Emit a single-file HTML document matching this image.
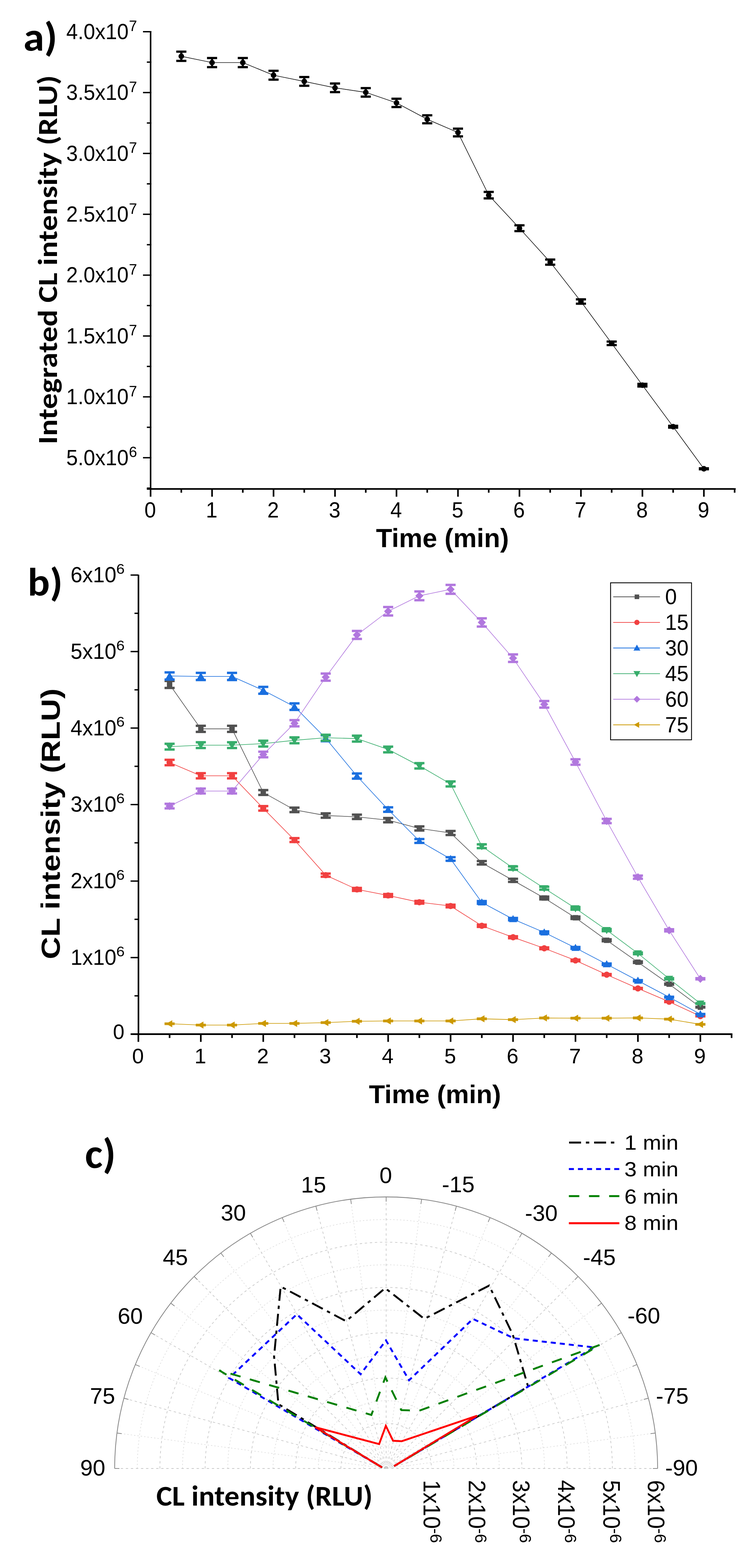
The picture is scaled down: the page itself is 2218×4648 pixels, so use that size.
<!DOCTYPE html>
<html><head><meta charset="utf-8"><title>Figure</title>
<style>html,body{margin:0;padding:0;background:#fff;overflow:hidden}svg{display:block}</style></head>
<body><svg width="2218" height="4648" viewBox="0 0 2218 4648">
<rect width="2218" height="4648" fill="#fff"/>
<rect x="444.30" y="92.10" width="4.50" height="1359.90" fill="#000"/>
<rect x="435.40" y="1447.00" width="1746.10" height="4.80" fill="#000"/>
<rect x="424.00" y="92.00" width="25.00" height="4.00" fill="#000"/>
<rect x="424.00" y="272.40" width="25.00" height="4.00" fill="#000"/>
<rect x="424.00" y="452.80" width="25.00" height="4.00" fill="#000"/>
<rect x="424.00" y="633.20" width="25.00" height="4.00" fill="#000"/>
<rect x="424.00" y="813.60" width="25.00" height="4.00" fill="#000"/>
<rect x="424.00" y="994.00" width="25.00" height="4.00" fill="#000"/>
<rect x="424.00" y="1174.40" width="25.00" height="4.00" fill="#000"/>
<rect x="424.00" y="1354.80" width="25.00" height="4.00" fill="#000"/>
<rect x="435.50" y="182.20" width="13.50" height="4.00" fill="#000"/>
<rect x="435.50" y="362.60" width="13.50" height="4.00" fill="#000"/>
<rect x="435.50" y="543.00" width="13.50" height="4.00" fill="#000"/>
<rect x="435.50" y="723.40" width="13.50" height="4.00" fill="#000"/>
<rect x="435.50" y="903.80" width="13.50" height="4.00" fill="#000"/>
<rect x="435.50" y="1084.20" width="13.50" height="4.00" fill="#000"/>
<rect x="435.50" y="1264.60" width="13.50" height="4.00" fill="#000"/>
<rect x="435.50" y="1445.00" width="13.50" height="4.00" fill="#000"/>
<rect x="444.10" y="1449.00" width="4.80" height="23.40" fill="#000"/>
<rect x="626.40" y="1449.00" width="4.80" height="23.40" fill="#000"/>
<rect x="808.70" y="1449.00" width="4.80" height="23.40" fill="#000"/>
<rect x="991.00" y="1449.00" width="4.80" height="23.40" fill="#000"/>
<rect x="1173.30" y="1449.00" width="4.80" height="23.40" fill="#000"/>
<rect x="1355.60" y="1449.00" width="4.80" height="23.40" fill="#000"/>
<rect x="1537.90" y="1449.00" width="4.80" height="23.40" fill="#000"/>
<rect x="1720.20" y="1449.00" width="4.80" height="23.40" fill="#000"/>
<rect x="1902.50" y="1449.00" width="4.80" height="23.40" fill="#000"/>
<rect x="2084.80" y="1449.00" width="4.80" height="23.40" fill="#000"/>
<rect x="535.25" y="1449.00" width="4.80" height="11.50" fill="#000"/>
<rect x="717.55" y="1449.00" width="4.80" height="11.50" fill="#000"/>
<rect x="899.85" y="1449.00" width="4.80" height="11.50" fill="#000"/>
<rect x="1082.15" y="1449.00" width="4.80" height="11.50" fill="#000"/>
<rect x="1264.45" y="1449.00" width="4.80" height="11.50" fill="#000"/>
<rect x="1446.75" y="1449.00" width="4.80" height="11.50" fill="#000"/>
<rect x="1629.05" y="1449.00" width="4.80" height="11.50" fill="#000"/>
<rect x="1811.35" y="1449.00" width="4.80" height="11.50" fill="#000"/>
<rect x="1993.65" y="1449.00" width="4.80" height="11.50" fill="#000"/>
<rect x="2175.95" y="1449.00" width="4.80" height="11.50" fill="#000"/>
<polyline points="537.6,166.8 628.8,185.5 720.0,185.5 811.1,223.0 902.2,241.3 993.4,260.3 1084.6,273.8 1175.7,305.0 1266.8,353.6 1358.0,392.8 1449.2,578.5 1540.3,676.5 1631.5,777.0 1722.6,893.8 1813.8,1017.7 1904.9,1141.8 1996.1,1264.9 2087.2,1389.6" fill="none" stroke="#000" stroke-width="1.7" stroke-linejoin="miter" />
<rect x="534.45" y="153.10" width="6.40" height="27.41" fill="#000"/>
<rect x="522.65" y="149.80" width="30.00" height="6.60" fill="#000"/>
<rect x="522.65" y="177.20" width="30.00" height="6.60" fill="#000"/>
<circle cx="537.6" cy="166.8" r="8.3" fill="#000"/>
<rect x="625.60" y="171.98" width="6.40" height="27.03" fill="#000"/>
<rect x="613.80" y="168.68" width="30.00" height="6.60" fill="#000"/>
<rect x="613.80" y="195.72" width="30.00" height="6.60" fill="#000"/>
<circle cx="628.8" cy="185.5" r="8.3" fill="#000"/>
<rect x="716.75" y="171.98" width="6.40" height="27.03" fill="#000"/>
<rect x="704.95" y="168.68" width="30.00" height="6.60" fill="#000"/>
<rect x="704.95" y="195.72" width="30.00" height="6.60" fill="#000"/>
<circle cx="720.0" cy="185.5" r="8.3" fill="#000"/>
<rect x="807.90" y="209.86" width="6.40" height="26.28" fill="#000"/>
<rect x="796.10" y="206.56" width="30.00" height="6.60" fill="#000"/>
<rect x="796.10" y="232.84" width="30.00" height="6.60" fill="#000"/>
<circle cx="811.1" cy="223.0" r="8.3" fill="#000"/>
<rect x="899.05" y="228.34" width="6.40" height="25.92" fill="#000"/>
<rect x="887.25" y="225.04" width="30.00" height="6.60" fill="#000"/>
<rect x="887.25" y="250.96" width="30.00" height="6.60" fill="#000"/>
<circle cx="902.2" cy="241.3" r="8.3" fill="#000"/>
<rect x="990.20" y="247.53" width="6.40" height="25.54" fill="#000"/>
<rect x="978.40" y="244.23" width="30.00" height="6.60" fill="#000"/>
<rect x="978.40" y="269.77" width="30.00" height="6.60" fill="#000"/>
<circle cx="993.4" cy="260.3" r="8.3" fill="#000"/>
<rect x="1081.35" y="261.17" width="6.40" height="25.27" fill="#000"/>
<rect x="1069.55" y="257.87" width="30.00" height="6.60" fill="#000"/>
<rect x="1069.55" y="283.13" width="30.00" height="6.60" fill="#000"/>
<circle cx="1084.6" cy="273.8" r="8.3" fill="#000"/>
<rect x="1172.50" y="292.68" width="6.40" height="24.64" fill="#000"/>
<rect x="1160.70" y="289.38" width="30.00" height="6.60" fill="#000"/>
<rect x="1160.70" y="314.02" width="30.00" height="6.60" fill="#000"/>
<circle cx="1175.7" cy="305.0" r="8.3" fill="#000"/>
<rect x="1263.65" y="341.76" width="6.40" height="23.67" fill="#000"/>
<rect x="1251.85" y="338.46" width="30.00" height="6.60" fill="#000"/>
<rect x="1251.85" y="362.14" width="30.00" height="6.60" fill="#000"/>
<circle cx="1266.8" cy="353.6" r="8.3" fill="#000"/>
<rect x="1354.80" y="381.36" width="6.40" height="22.89" fill="#000"/>
<rect x="1343.00" y="378.06" width="30.00" height="6.60" fill="#000"/>
<rect x="1343.00" y="400.94" width="30.00" height="6.60" fill="#000"/>
<circle cx="1358.0" cy="392.8" r="8.3" fill="#000"/>
<rect x="1445.95" y="568.91" width="6.40" height="19.17" fill="#000"/>
<rect x="1434.15" y="565.61" width="30.00" height="6.60" fill="#000"/>
<rect x="1434.15" y="584.79" width="30.00" height="6.60" fill="#000"/>
<circle cx="1449.2" cy="578.5" r="8.3" fill="#000"/>
<rect x="1537.10" y="667.89" width="6.40" height="17.21" fill="#000"/>
<rect x="1525.30" y="664.59" width="30.00" height="6.60" fill="#000"/>
<rect x="1525.30" y="681.81" width="30.00" height="6.60" fill="#000"/>
<circle cx="1540.3" cy="676.5" r="8.3" fill="#000"/>
<rect x="1628.25" y="769.40" width="6.40" height="15.20" fill="#000"/>
<rect x="1616.45" y="766.10" width="30.00" height="6.60" fill="#000"/>
<rect x="1616.45" y="781.30" width="30.00" height="6.60" fill="#000"/>
<circle cx="1631.5" cy="777.0" r="8.3" fill="#000"/>
<rect x="1719.40" y="887.37" width="6.40" height="12.87" fill="#000"/>
<rect x="1707.60" y="884.07" width="30.00" height="6.60" fill="#000"/>
<rect x="1707.60" y="896.93" width="30.00" height="6.60" fill="#000"/>
<circle cx="1722.6" cy="893.8" r="8.3" fill="#000"/>
<rect x="1810.55" y="1012.50" width="6.40" height="10.39" fill="#000"/>
<rect x="1798.75" y="1009.21" width="30.00" height="6.60" fill="#000"/>
<rect x="1798.75" y="1019.60" width="30.00" height="6.60" fill="#000"/>
<circle cx="1813.8" cy="1017.7" r="8.3" fill="#000"/>
<rect x="1901.70" y="1137.85" width="6.40" height="7.91" fill="#000"/>
<rect x="1889.90" y="1134.55" width="30.00" height="14.51" fill="#000"/>
<circle cx="1904.9" cy="1141.8" r="8.3" fill="#000"/>
<rect x="1992.85" y="1262.18" width="6.40" height="5.45" fill="#000"/>
<rect x="1981.05" y="1258.88" width="30.00" height="12.05" fill="#000"/>
<circle cx="1996.1" cy="1264.9" r="8.3" fill="#000"/>
<rect x="2084.00" y="1388.12" width="6.40" height="2.95" fill="#000"/>
<rect x="2072.20" y="1384.82" width="30.00" height="9.55" fill="#000"/>
<circle cx="2087.2" cy="1389.6" r="8.3" fill="#000"/>
<text transform="translate(69.18,149.68) scale(1.25429,1.20114)" font-family='Carlito, Calibri, "Liberation Sans", sans-serif' font-weight="bold" font-size="100" text-anchor="start" textLength="80.53" lengthAdjust="spacingAndGlyphs" fill="#000">a)</text>
<text transform="translate(169.41,1317.30) scale(0.81099,0.92918) rotate(-90)" font-family='Carlito, Calibri, "Liberation Sans", sans-serif' font-weight="bold" font-size="100" text-anchor="start" textLength="1177.84" lengthAdjust="spacingAndGlyphs" fill="#000">Integrated CL intensity (RLU)</text>
<text transform="translate(1114.92,1621.85) scale(0.78253,0.76915)" font-family='"Liberation Sans", Arial, Helvetica, sans-serif' font-weight="bold" font-size="100" text-anchor="start" textLength="503.77" lengthAdjust="spacingAndGlyphs" fill="#000">Time (min)</text>
<text transform="translate(381.36,115.86) scale(0.61599,0.64225)" font-family='"Liberation Sans", Arial, Helvetica, sans-serif' font-weight="normal" font-size="100" text-anchor="end" textLength="300.25" lengthAdjust="spacingAndGlyphs" fill="#000">4.0x10</text>
<text transform="translate(382.23,92.34) scale(0.43478,0.43529)" font-family='"Liberation Sans", Arial, Helvetica, sans-serif' font-weight="normal" font-size="100" text-anchor="start" textLength="55.62" lengthAdjust="spacingAndGlyphs" fill="#000">7</text>
<text transform="translate(381.36,296.26) scale(0.61599,0.64225)" font-family='"Liberation Sans", Arial, Helvetica, sans-serif' font-weight="normal" font-size="100" text-anchor="end" textLength="300.25" lengthAdjust="spacingAndGlyphs" fill="#000">3.5x10</text>
<text transform="translate(382.23,272.74) scale(0.43478,0.43529)" font-family='"Liberation Sans", Arial, Helvetica, sans-serif' font-weight="normal" font-size="100" text-anchor="start" textLength="55.62" lengthAdjust="spacingAndGlyphs" fill="#000">7</text>
<text transform="translate(381.36,476.66) scale(0.61599,0.64225)" font-family='"Liberation Sans", Arial, Helvetica, sans-serif' font-weight="normal" font-size="100" text-anchor="end" textLength="300.25" lengthAdjust="spacingAndGlyphs" fill="#000">3.0x10</text>
<text transform="translate(382.23,453.14) scale(0.43478,0.43529)" font-family='"Liberation Sans", Arial, Helvetica, sans-serif' font-weight="normal" font-size="100" text-anchor="start" textLength="55.62" lengthAdjust="spacingAndGlyphs" fill="#000">7</text>
<text transform="translate(381.36,657.06) scale(0.61599,0.64225)" font-family='"Liberation Sans", Arial, Helvetica, sans-serif' font-weight="normal" font-size="100" text-anchor="end" textLength="300.25" lengthAdjust="spacingAndGlyphs" fill="#000">2.5x10</text>
<text transform="translate(382.23,633.54) scale(0.43478,0.43529)" font-family='"Liberation Sans", Arial, Helvetica, sans-serif' font-weight="normal" font-size="100" text-anchor="start" textLength="55.62" lengthAdjust="spacingAndGlyphs" fill="#000">7</text>
<text transform="translate(381.36,837.46) scale(0.61599,0.64225)" font-family='"Liberation Sans", Arial, Helvetica, sans-serif' font-weight="normal" font-size="100" text-anchor="end" textLength="300.25" lengthAdjust="spacingAndGlyphs" fill="#000">2.0x10</text>
<text transform="translate(382.23,813.94) scale(0.43478,0.43529)" font-family='"Liberation Sans", Arial, Helvetica, sans-serif' font-weight="normal" font-size="100" text-anchor="start" textLength="55.62" lengthAdjust="spacingAndGlyphs" fill="#000">7</text>
<text transform="translate(381.36,1017.86) scale(0.61599,0.64225)" font-family='"Liberation Sans", Arial, Helvetica, sans-serif' font-weight="normal" font-size="100" text-anchor="end" textLength="300.25" lengthAdjust="spacingAndGlyphs" fill="#000">1.5x10</text>
<text transform="translate(382.23,994.34) scale(0.43478,0.43529)" font-family='"Liberation Sans", Arial, Helvetica, sans-serif' font-weight="normal" font-size="100" text-anchor="start" textLength="55.62" lengthAdjust="spacingAndGlyphs" fill="#000">7</text>
<text transform="translate(381.36,1198.26) scale(0.61599,0.64225)" font-family='"Liberation Sans", Arial, Helvetica, sans-serif' font-weight="normal" font-size="100" text-anchor="end" textLength="300.25" lengthAdjust="spacingAndGlyphs" fill="#000">1.0x10</text>
<text transform="translate(382.23,1174.74) scale(0.43478,0.43529)" font-family='"Liberation Sans", Arial, Helvetica, sans-serif' font-weight="normal" font-size="100" text-anchor="start" textLength="55.62" lengthAdjust="spacingAndGlyphs" fill="#000">7</text>
<text transform="translate(381.36,1378.66) scale(0.61599,0.64225)" font-family='"Liberation Sans", Arial, Helvetica, sans-serif' font-weight="normal" font-size="100" text-anchor="end" textLength="300.25" lengthAdjust="spacingAndGlyphs" fill="#000">5.0x10</text>
<text transform="translate(382.23,1355.14) scale(0.43478,0.43529)" font-family='"Liberation Sans", Arial, Helvetica, sans-serif' font-weight="normal" font-size="100" text-anchor="start" textLength="55.62" lengthAdjust="spacingAndGlyphs" fill="#000">6</text>
<text transform="translate(445.40,1533.96) scale(0.61667,0.64085)" font-family='"Liberation Sans", Arial, Helvetica, sans-serif' font-weight="normal" font-size="100" text-anchor="middle" textLength="55.62" lengthAdjust="spacingAndGlyphs" fill="#000">0</text>
<text transform="translate(627.70,1533.96) scale(0.61667,0.64085)" font-family='"Liberation Sans", Arial, Helvetica, sans-serif' font-weight="normal" font-size="100" text-anchor="middle" textLength="55.62" lengthAdjust="spacingAndGlyphs" fill="#000">1</text>
<text transform="translate(810.00,1533.96) scale(0.61667,0.64085)" font-family='"Liberation Sans", Arial, Helvetica, sans-serif' font-weight="normal" font-size="100" text-anchor="middle" textLength="55.62" lengthAdjust="spacingAndGlyphs" fill="#000">2</text>
<text transform="translate(992.30,1533.96) scale(0.61667,0.64085)" font-family='"Liberation Sans", Arial, Helvetica, sans-serif' font-weight="normal" font-size="100" text-anchor="middle" textLength="55.62" lengthAdjust="spacingAndGlyphs" fill="#000">3</text>
<text transform="translate(1174.60,1533.96) scale(0.61667,0.64085)" font-family='"Liberation Sans", Arial, Helvetica, sans-serif' font-weight="normal" font-size="100" text-anchor="middle" textLength="55.62" lengthAdjust="spacingAndGlyphs" fill="#000">4</text>
<text transform="translate(1356.90,1533.96) scale(0.61667,0.64085)" font-family='"Liberation Sans", Arial, Helvetica, sans-serif' font-weight="normal" font-size="100" text-anchor="middle" textLength="55.62" lengthAdjust="spacingAndGlyphs" fill="#000">5</text>
<text transform="translate(1539.20,1533.96) scale(0.61667,0.64085)" font-family='"Liberation Sans", Arial, Helvetica, sans-serif' font-weight="normal" font-size="100" text-anchor="middle" textLength="55.62" lengthAdjust="spacingAndGlyphs" fill="#000">6</text>
<text transform="translate(1721.50,1533.96) scale(0.61667,0.64085)" font-family='"Liberation Sans", Arial, Helvetica, sans-serif' font-weight="normal" font-size="100" text-anchor="middle" textLength="55.62" lengthAdjust="spacingAndGlyphs" fill="#000">7</text>
<text transform="translate(1903.80,1533.96) scale(0.61667,0.64085)" font-family='"Liberation Sans", Arial, Helvetica, sans-serif' font-weight="normal" font-size="100" text-anchor="middle" textLength="55.62" lengthAdjust="spacingAndGlyphs" fill="#000">8</text>
<text transform="translate(2086.10,1533.96) scale(0.61667,0.64085)" font-family='"Liberation Sans", Arial, Helvetica, sans-serif' font-weight="normal" font-size="100" text-anchor="middle" textLength="55.62" lengthAdjust="spacingAndGlyphs" fill="#000">9</text>
<rect x="408.20" y="1703.60" width="4.70" height="1364.40" fill="#000"/>
<rect x="387.30" y="3063.00" width="1784.40" height="5.00" fill="#000"/>
<rect x="387.20" y="2836.54" width="23.30" height="4.00" fill="#000"/>
<rect x="387.20" y="2609.76" width="23.30" height="4.00" fill="#000"/>
<rect x="387.20" y="2382.98" width="23.30" height="4.00" fill="#000"/>
<rect x="387.20" y="2156.20" width="23.30" height="4.00" fill="#000"/>
<rect x="387.20" y="1929.42" width="23.30" height="4.00" fill="#000"/>
<rect x="387.20" y="1702.64" width="23.30" height="4.00" fill="#000"/>
<rect x="398.80" y="2949.93" width="11.70" height="4.00" fill="#000"/>
<rect x="398.80" y="2723.15" width="11.70" height="4.00" fill="#000"/>
<rect x="398.80" y="2496.37" width="11.70" height="4.00" fill="#000"/>
<rect x="398.80" y="2269.59" width="11.70" height="4.00" fill="#000"/>
<rect x="398.80" y="2042.81" width="11.70" height="4.00" fill="#000"/>
<rect x="398.80" y="1816.03" width="11.70" height="4.00" fill="#000"/>
<rect x="407.90" y="3065.00" width="4.80" height="23.40" fill="#000"/>
<rect x="593.06" y="3065.00" width="4.80" height="23.40" fill="#000"/>
<rect x="778.22" y="3065.00" width="4.80" height="23.40" fill="#000"/>
<rect x="963.38" y="3065.00" width="4.80" height="23.40" fill="#000"/>
<rect x="1148.54" y="3065.00" width="4.80" height="23.40" fill="#000"/>
<rect x="1333.70" y="3065.00" width="4.80" height="23.40" fill="#000"/>
<rect x="1518.86" y="3065.00" width="4.80" height="23.40" fill="#000"/>
<rect x="1704.02" y="3065.00" width="4.80" height="23.40" fill="#000"/>
<rect x="1889.18" y="3065.00" width="4.80" height="23.40" fill="#000"/>
<rect x="2074.34" y="3065.00" width="4.80" height="23.40" fill="#000"/>
<rect x="500.48" y="3065.00" width="4.80" height="11.90" fill="#000"/>
<rect x="685.64" y="3065.00" width="4.80" height="11.90" fill="#000"/>
<rect x="870.80" y="3065.00" width="4.80" height="11.90" fill="#000"/>
<rect x="1055.96" y="3065.00" width="4.80" height="11.90" fill="#000"/>
<rect x="1241.12" y="3065.00" width="4.80" height="11.90" fill="#000"/>
<rect x="1426.28" y="3065.00" width="4.80" height="11.90" fill="#000"/>
<rect x="1611.44" y="3065.00" width="4.80" height="11.90" fill="#000"/>
<rect x="1796.60" y="3065.00" width="4.80" height="11.90" fill="#000"/>
<rect x="1981.76" y="3065.00" width="4.80" height="11.90" fill="#000"/>
<rect x="2166.92" y="3065.00" width="4.80" height="11.90" fill="#000"/>
<polyline points="502.9,2028.9 595.5,2160.5 688.0,2160.5 780.6,2349.2 873.2,2400.7 965.8,2417.5 1058.4,2421.3 1150.9,2431.2 1243.5,2455.8 1336.1,2469.2 1428.7,2557.5 1521.3,2609.6 1613.8,2661.9 1706.4,2720.5 1799.0,2787.3 1891.6,2852.2 1984.2,2917.3 2076.7,2985.6" fill="none" stroke="#515151" stroke-width="1.8" stroke-linejoin="miter" />
<rect x="500.08" y="2018.54" width="5.60" height="20.73" fill="#515151"/>
<rect x="487.88" y="2015.04" width="30.00" height="7.00" fill="#515151"/>
<rect x="487.88" y="2035.76" width="30.00" height="7.00" fill="#515151"/>
<rect x="494.9" y="2020.9" width="16.0" height="16.0" fill="#515151"/>
<rect x="592.66" y="2151.45" width="5.60" height="18.10" fill="#515151"/>
<rect x="580.46" y="2147.95" width="30.00" height="7.00" fill="#515151"/>
<rect x="580.46" y="2166.05" width="30.00" height="7.00" fill="#515151"/>
<rect x="587.5" y="2152.5" width="16.0" height="16.0" fill="#515151"/>
<rect x="685.24" y="2151.45" width="5.60" height="18.10" fill="#515151"/>
<rect x="673.04" y="2147.95" width="30.00" height="7.00" fill="#515151"/>
<rect x="673.04" y="2166.05" width="30.00" height="7.00" fill="#515151"/>
<rect x="680.0" y="2152.5" width="16.0" height="16.0" fill="#515151"/>
<rect x="777.82" y="2342.04" width="5.60" height="14.32" fill="#515151"/>
<rect x="765.62" y="2338.54" width="30.00" height="7.00" fill="#515151"/>
<rect x="765.62" y="2352.86" width="30.00" height="7.00" fill="#515151"/>
<rect x="772.6" y="2341.2" width="16.0" height="16.0" fill="#515151"/>
<rect x="870.40" y="2394.05" width="5.60" height="13.29" fill="#515151"/>
<rect x="858.20" y="2390.55" width="30.00" height="7.00" fill="#515151"/>
<rect x="858.20" y="2403.85" width="30.00" height="7.00" fill="#515151"/>
<rect x="865.2" y="2392.7" width="16.0" height="16.0" fill="#515151"/>
<rect x="962.98" y="2411.02" width="5.60" height="12.96" fill="#515151"/>
<rect x="950.78" y="2407.52" width="30.00" height="7.00" fill="#515151"/>
<rect x="950.78" y="2420.48" width="30.00" height="7.00" fill="#515151"/>
<rect x="957.8" y="2409.5" width="16.0" height="16.0" fill="#515151"/>
<rect x="1055.56" y="2414.86" width="5.60" height="12.88" fill="#515151"/>
<rect x="1043.36" y="2411.36" width="30.00" height="7.00" fill="#515151"/>
<rect x="1043.36" y="2424.24" width="30.00" height="7.00" fill="#515151"/>
<rect x="1050.4" y="2413.3" width="16.0" height="16.0" fill="#515151"/>
<rect x="1148.14" y="2424.86" width="5.60" height="12.68" fill="#515151"/>
<rect x="1135.94" y="2421.36" width="30.00" height="7.00" fill="#515151"/>
<rect x="1135.94" y="2434.04" width="30.00" height="7.00" fill="#515151"/>
<rect x="1142.9" y="2423.2" width="16.0" height="16.0" fill="#515151"/>
<rect x="1240.72" y="2449.70" width="5.60" height="12.19" fill="#515151"/>
<rect x="1228.52" y="2446.20" width="30.00" height="7.00" fill="#515151"/>
<rect x="1228.52" y="2458.40" width="30.00" height="7.00" fill="#515151"/>
<rect x="1235.5" y="2447.8" width="16.0" height="16.0" fill="#515151"/>
<rect x="1333.30" y="2463.24" width="5.60" height="11.92" fill="#515151"/>
<rect x="1321.10" y="2459.74" width="30.00" height="7.00" fill="#515151"/>
<rect x="1321.10" y="2471.66" width="30.00" height="7.00" fill="#515151"/>
<rect x="1328.1" y="2461.2" width="16.0" height="16.0" fill="#515151"/>
<rect x="1425.88" y="2552.42" width="5.60" height="10.16" fill="#515151"/>
<rect x="1413.68" y="2548.92" width="30.00" height="7.00" fill="#515151"/>
<rect x="1413.68" y="2559.08" width="30.00" height="7.00" fill="#515151"/>
<rect x="1420.7" y="2549.5" width="16.0" height="16.0" fill="#515151"/>
<rect x="1518.46" y="2605.04" width="5.60" height="9.11" fill="#515151"/>
<rect x="1506.26" y="2601.54" width="30.00" height="7.00" fill="#515151"/>
<rect x="1506.26" y="2610.66" width="30.00" height="7.00" fill="#515151"/>
<rect x="1513.3" y="2601.6" width="16.0" height="16.0" fill="#515151"/>
<rect x="1611.04" y="2657.87" width="5.60" height="8.07" fill="#515151"/>
<rect x="1598.84" y="2654.27" width="30.00" height="15.27" fill="#515151"/>
<rect x="1605.8" y="2653.9" width="16.0" height="16.0" fill="#515151"/>
<rect x="1703.62" y="2717.05" width="5.60" height="6.90" fill="#515151"/>
<rect x="1691.42" y="2713.45" width="30.00" height="14.10" fill="#515151"/>
<rect x="1698.4" y="2712.5" width="16.0" height="16.0" fill="#515151"/>
<rect x="1796.20" y="2784.52" width="5.60" height="5.56" fill="#515151"/>
<rect x="1784.00" y="2780.92" width="30.00" height="12.76" fill="#515151"/>
<rect x="1791.0" y="2779.3" width="16.0" height="16.0" fill="#515151"/>
<rect x="1888.78" y="2850.07" width="5.60" height="4.26" fill="#515151"/>
<rect x="1876.58" y="2846.47" width="30.00" height="11.46" fill="#515151"/>
<rect x="1883.6" y="2844.2" width="16.0" height="16.0" fill="#515151"/>
<rect x="1981.36" y="2915.82" width="5.60" height="2.96" fill="#515151"/>
<rect x="1969.16" y="2912.22" width="30.00" height="10.16" fill="#515151"/>
<rect x="1976.2" y="2909.3" width="16.0" height="16.0" fill="#515151"/>
<rect x="2073.94" y="2984.80" width="5.60" height="1.59" fill="#515151"/>
<rect x="2061.74" y="2981.20" width="30.00" height="8.79" fill="#515151"/>
<rect x="2068.7" y="2977.6" width="16.0" height="16.0" fill="#515151"/>
<polyline points="502.9,2260.3 595.5,2299.6 688.0,2299.6 780.6,2396.2 873.2,2490.2 965.8,2594.2 1058.4,2636.5 1150.9,2654.4 1243.5,2674.5 1336.1,2685.7 1428.7,2744.3 1521.3,2778.3 1613.8,2811.0 1706.4,2846.9 1799.0,2889.2 1891.6,2929.9 1984.2,2969.4 2076.7,3012.1" fill="none" stroke="#F14040" stroke-width="1.8" stroke-linejoin="miter" />
<rect x="500.08" y="2252.25" width="5.60" height="16.10" fill="#F14040"/>
<rect x="487.88" y="2248.75" width="30.00" height="7.00" fill="#F14040"/>
<rect x="487.88" y="2264.85" width="30.00" height="7.00" fill="#F14040"/>
<circle cx="502.9" cy="2260.3" r="9.2" fill="#F14040"/>
<rect x="592.66" y="2291.94" width="5.60" height="15.31" fill="#F14040"/>
<rect x="580.46" y="2288.44" width="30.00" height="7.00" fill="#F14040"/>
<rect x="580.46" y="2303.76" width="30.00" height="7.00" fill="#F14040"/>
<circle cx="595.5" cy="2299.6" r="9.2" fill="#F14040"/>
<rect x="685.24" y="2291.94" width="5.60" height="15.31" fill="#F14040"/>
<rect x="673.04" y="2288.44" width="30.00" height="7.00" fill="#F14040"/>
<rect x="673.04" y="2303.76" width="30.00" height="7.00" fill="#F14040"/>
<circle cx="688.0" cy="2299.6" r="9.2" fill="#F14040"/>
<rect x="777.82" y="2389.51" width="5.60" height="13.38" fill="#F14040"/>
<rect x="765.62" y="2386.01" width="30.00" height="7.00" fill="#F14040"/>
<rect x="765.62" y="2399.39" width="30.00" height="7.00" fill="#F14040"/>
<circle cx="780.6" cy="2396.2" r="9.2" fill="#F14040"/>
<rect x="870.40" y="2484.45" width="5.60" height="11.50" fill="#F14040"/>
<rect x="858.20" y="2480.95" width="30.00" height="7.00" fill="#F14040"/>
<rect x="858.20" y="2492.45" width="30.00" height="7.00" fill="#F14040"/>
<circle cx="873.2" cy="2490.2" r="9.2" fill="#F14040"/>
<rect x="962.98" y="2589.49" width="5.60" height="9.42" fill="#F14040"/>
<rect x="950.78" y="2585.99" width="30.00" height="7.00" fill="#F14040"/>
<rect x="950.78" y="2595.41" width="30.00" height="7.00" fill="#F14040"/>
<circle cx="965.8" cy="2594.2" r="9.2" fill="#F14040"/>
<rect x="1055.56" y="2632.21" width="5.60" height="8.58" fill="#F14040"/>
<rect x="1043.36" y="2628.61" width="30.00" height="15.78" fill="#F14040"/>
<circle cx="1058.4" cy="2636.5" r="9.2" fill="#F14040"/>
<rect x="1148.14" y="2650.29" width="5.60" height="8.22" fill="#F14040"/>
<rect x="1135.94" y="2646.69" width="30.00" height="15.42" fill="#F14040"/>
<circle cx="1150.9" cy="2654.4" r="9.2" fill="#F14040"/>
<rect x="1240.72" y="2670.59" width="5.60" height="7.82" fill="#F14040"/>
<rect x="1228.52" y="2666.99" width="30.00" height="15.02" fill="#F14040"/>
<circle cx="1243.5" cy="2674.5" r="9.2" fill="#F14040"/>
<rect x="1333.30" y="2681.90" width="5.60" height="7.59" fill="#F14040"/>
<rect x="1321.10" y="2678.30" width="30.00" height="14.79" fill="#F14040"/>
<circle cx="1336.1" cy="2685.7" r="9.2" fill="#F14040"/>
<rect x="1425.88" y="2741.09" width="5.60" height="6.42" fill="#F14040"/>
<rect x="1413.68" y="2737.49" width="30.00" height="13.62" fill="#F14040"/>
<circle cx="1428.7" cy="2744.3" r="9.2" fill="#F14040"/>
<rect x="1518.46" y="2775.43" width="5.60" height="5.74" fill="#F14040"/>
<rect x="1506.26" y="2771.83" width="30.00" height="12.94" fill="#F14040"/>
<circle cx="1521.3" cy="2778.3" r="9.2" fill="#F14040"/>
<rect x="1611.04" y="2808.46" width="5.60" height="5.09" fill="#F14040"/>
<rect x="1598.84" y="2804.86" width="30.00" height="12.29" fill="#F14040"/>
<circle cx="1613.8" cy="2811.0" r="9.2" fill="#F14040"/>
<rect x="1703.62" y="2844.72" width="5.60" height="4.37" fill="#F14040"/>
<rect x="1691.42" y="2841.12" width="30.00" height="11.57" fill="#F14040"/>
<circle cx="1706.4" cy="2846.9" r="9.2" fill="#F14040"/>
<rect x="1796.20" y="2887.44" width="5.60" height="3.52" fill="#F14040"/>
<rect x="1784.00" y="2883.84" width="30.00" height="10.72" fill="#F14040"/>
<circle cx="1799.0" cy="2889.2" r="9.2" fill="#F14040"/>
<rect x="1888.78" y="2928.55" width="5.60" height="2.71" fill="#F14040"/>
<rect x="1876.58" y="2924.95" width="30.00" height="9.91" fill="#F14040"/>
<circle cx="1891.6" cy="2929.9" r="9.2" fill="#F14040"/>
<rect x="1981.36" y="2968.44" width="5.60" height="1.92" fill="#F14040"/>
<rect x="1969.16" y="2964.84" width="30.00" height="9.12" fill="#F14040"/>
<circle cx="1984.2" cy="2969.4" r="9.2" fill="#F14040"/>
<rect x="2073.94" y="3011.57" width="5.60" height="1.06" fill="#F14040"/>
<rect x="2061.74" y="3007.97" width="30.00" height="8.26" fill="#F14040"/>
<circle cx="2076.7" cy="3012.1" r="9.2" fill="#F14040"/>
<polyline points="502.9,2003.8 595.5,2005.2 688.0,2005.2 780.6,2046.3 873.2,2094.7 965.8,2188.4 1058.4,2300.5 1150.9,2399.8 1243.5,2492.9 1336.1,2546.2 1428.7,2675.0 1521.3,2724.6 1613.8,2764.0 1706.4,2809.8 1799.0,2858.3 1891.6,2907.1 1984.2,2955.9 2076.7,3006.4" fill="none" stroke="#1A6FDF" stroke-width="1.8" stroke-linejoin="miter" />
<rect x="500.08" y="1993.18" width="5.60" height="21.23" fill="#1A6FDF"/>
<rect x="487.88" y="1989.68" width="30.00" height="7.00" fill="#1A6FDF"/>
<rect x="487.88" y="2010.92" width="30.00" height="7.00" fill="#1A6FDF"/>
<polygon points="502.9,1991.8 514.9,2012.8 490.9,2012.8" fill="#1A6FDF"/>
<rect x="592.66" y="1994.60" width="5.60" height="21.20" fill="#1A6FDF"/>
<rect x="580.46" y="1991.10" width="30.00" height="7.00" fill="#1A6FDF"/>
<rect x="580.46" y="2012.30" width="30.00" height="7.00" fill="#1A6FDF"/>
<polygon points="595.5,1993.2 607.5,2014.2 583.5,2014.2" fill="#1A6FDF"/>
<rect x="685.24" y="1994.60" width="5.60" height="21.20" fill="#1A6FDF"/>
<rect x="673.04" y="1991.10" width="30.00" height="7.00" fill="#1A6FDF"/>
<rect x="673.04" y="2012.30" width="30.00" height="7.00" fill="#1A6FDF"/>
<polygon points="688.0,1993.2 700.0,2014.2 676.0,2014.2" fill="#1A6FDF"/>
<rect x="777.82" y="2036.11" width="5.60" height="20.38" fill="#1A6FDF"/>
<rect x="765.62" y="2032.61" width="30.00" height="7.00" fill="#1A6FDF"/>
<rect x="765.62" y="2052.99" width="30.00" height="7.00" fill="#1A6FDF"/>
<polygon points="780.6,2034.3 792.6,2055.3 768.6,2055.3" fill="#1A6FDF"/>
<rect x="870.40" y="2084.99" width="5.60" height="19.41" fill="#1A6FDF"/>
<rect x="858.20" y="2081.49" width="30.00" height="7.00" fill="#1A6FDF"/>
<rect x="858.20" y="2100.91" width="30.00" height="7.00" fill="#1A6FDF"/>
<polygon points="873.2,2082.7 885.2,2103.7 861.2,2103.7" fill="#1A6FDF"/>
<rect x="962.98" y="2179.63" width="5.60" height="17.54" fill="#1A6FDF"/>
<rect x="950.78" y="2176.13" width="30.00" height="7.00" fill="#1A6FDF"/>
<rect x="950.78" y="2193.67" width="30.00" height="7.00" fill="#1A6FDF"/>
<polygon points="965.8,2176.4 977.8,2197.4 953.8,2197.4" fill="#1A6FDF"/>
<rect x="1055.56" y="2292.85" width="5.60" height="15.30" fill="#1A6FDF"/>
<rect x="1043.36" y="2289.35" width="30.00" height="7.00" fill="#1A6FDF"/>
<rect x="1043.36" y="2304.65" width="30.00" height="7.00" fill="#1A6FDF"/>
<polygon points="1058.4,2288.5 1070.4,2309.5 1046.4,2309.5" fill="#1A6FDF"/>
<rect x="1148.14" y="2393.14" width="5.60" height="13.31" fill="#1A6FDF"/>
<rect x="1135.94" y="2389.64" width="30.00" height="7.00" fill="#1A6FDF"/>
<rect x="1135.94" y="2402.96" width="30.00" height="7.00" fill="#1A6FDF"/>
<polygon points="1150.9,2387.8 1162.9,2408.8 1138.9,2408.8" fill="#1A6FDF"/>
<rect x="1240.72" y="2487.18" width="5.60" height="11.45" fill="#1A6FDF"/>
<rect x="1228.52" y="2483.68" width="30.00" height="7.00" fill="#1A6FDF"/>
<rect x="1228.52" y="2495.12" width="30.00" height="7.00" fill="#1A6FDF"/>
<polygon points="1243.5,2480.9 1255.5,2501.9 1231.5,2501.9" fill="#1A6FDF"/>
<rect x="1333.30" y="2541.01" width="5.60" height="10.38" fill="#1A6FDF"/>
<rect x="1321.10" y="2537.51" width="30.00" height="7.00" fill="#1A6FDF"/>
<rect x="1321.10" y="2547.89" width="30.00" height="7.00" fill="#1A6FDF"/>
<polygon points="1336.1,2534.2 1348.1,2555.2 1324.1,2555.2" fill="#1A6FDF"/>
<rect x="1425.88" y="2671.10" width="5.60" height="7.81" fill="#1A6FDF"/>
<rect x="1413.68" y="2667.50" width="30.00" height="15.01" fill="#1A6FDF"/>
<polygon points="1428.7,2663.0 1440.7,2684.0 1416.7,2684.0" fill="#1A6FDF"/>
<rect x="1518.46" y="2721.19" width="5.60" height="6.81" fill="#1A6FDF"/>
<rect x="1506.26" y="2717.59" width="30.00" height="14.01" fill="#1A6FDF"/>
<polygon points="1521.3,2712.6 1533.3,2733.6 1509.3,2733.6" fill="#1A6FDF"/>
<rect x="1611.04" y="2760.99" width="5.60" height="6.03" fill="#1A6FDF"/>
<rect x="1598.84" y="2757.39" width="30.00" height="13.23" fill="#1A6FDF"/>
<polygon points="1613.8,2752.0 1625.8,2773.0 1601.8,2773.0" fill="#1A6FDF"/>
<rect x="1703.62" y="2807.24" width="5.60" height="5.11" fill="#1A6FDF"/>
<rect x="1691.42" y="2803.64" width="30.00" height="12.31" fill="#1A6FDF"/>
<polygon points="1706.4,2797.8 1718.4,2818.8 1694.4,2818.8" fill="#1A6FDF"/>
<rect x="1796.20" y="2856.23" width="5.60" height="4.14" fill="#1A6FDF"/>
<rect x="1784.00" y="2852.63" width="30.00" height="11.34" fill="#1A6FDF"/>
<polygon points="1799.0,2846.3 1811.0,2867.3 1787.0,2867.3" fill="#1A6FDF"/>
<rect x="1888.78" y="2905.52" width="5.60" height="3.16" fill="#1A6FDF"/>
<rect x="1876.58" y="2901.92" width="30.00" height="10.36" fill="#1A6FDF"/>
<polygon points="1891.6,2895.1 1903.6,2916.1 1879.6,2916.1" fill="#1A6FDF"/>
<rect x="1981.36" y="2954.81" width="5.60" height="2.19" fill="#1A6FDF"/>
<rect x="1969.16" y="2951.21" width="30.00" height="9.39" fill="#1A6FDF"/>
<polygon points="1984.2,2943.9 1996.2,2964.9 1972.2,2964.9" fill="#1A6FDF"/>
<rect x="2073.94" y="3005.81" width="5.60" height="1.18" fill="#1A6FDF"/>
<rect x="2061.74" y="3002.21" width="30.00" height="8.38" fill="#1A6FDF"/>
<polygon points="2076.7,2994.4 2088.7,3015.4 2064.7,3015.4" fill="#1A6FDF"/>
<polyline points="502.9,2213.3 595.5,2208.8 688.0,2208.8 780.6,2204.3 873.2,2194.5 965.8,2186.8 1058.4,2189.5 1150.9,2221.7 1243.5,2270.1 1336.1,2323.8 1428.7,2508.5 1521.3,2573.3 1613.8,2632.9 1706.4,2692.6 1799.0,2757.1 1891.6,2826.1 1984.2,2901.4 2076.7,2974.7" fill="none" stroke="#37AD6B" stroke-width="1.8" stroke-linejoin="miter" />
<rect x="500.08" y="2204.78" width="5.60" height="17.04" fill="#37AD6B"/>
<rect x="487.88" y="2201.28" width="30.00" height="7.00" fill="#37AD6B"/>
<rect x="487.88" y="2218.32" width="30.00" height="7.00" fill="#37AD6B"/>
<polygon points="502.9,2225.3 514.9,2204.3 490.9,2204.3" fill="#37AD6B"/>
<rect x="592.66" y="2200.23" width="5.60" height="17.13" fill="#37AD6B"/>
<rect x="580.46" y="2196.73" width="30.00" height="7.00" fill="#37AD6B"/>
<rect x="580.46" y="2213.87" width="30.00" height="7.00" fill="#37AD6B"/>
<polygon points="595.5,2220.8 607.5,2199.8 583.5,2199.8" fill="#37AD6B"/>
<rect x="685.24" y="2200.23" width="5.60" height="17.13" fill="#37AD6B"/>
<rect x="673.04" y="2196.73" width="30.00" height="7.00" fill="#37AD6B"/>
<rect x="673.04" y="2213.87" width="30.00" height="7.00" fill="#37AD6B"/>
<polygon points="688.0,2220.8 700.0,2199.8 676.0,2199.8" fill="#37AD6B"/>
<rect x="777.82" y="2195.69" width="5.60" height="17.22" fill="#37AD6B"/>
<rect x="765.62" y="2192.19" width="30.00" height="7.00" fill="#37AD6B"/>
<rect x="765.62" y="2209.41" width="30.00" height="7.00" fill="#37AD6B"/>
<polygon points="780.6,2216.3 792.6,2195.3 768.6,2195.3" fill="#37AD6B"/>
<rect x="870.40" y="2185.79" width="5.60" height="17.42" fill="#37AD6B"/>
<rect x="858.20" y="2182.29" width="30.00" height="7.00" fill="#37AD6B"/>
<rect x="858.20" y="2199.71" width="30.00" height="7.00" fill="#37AD6B"/>
<polygon points="873.2,2206.5 885.2,2185.5 861.2,2185.5" fill="#37AD6B"/>
<rect x="962.98" y="2178.01" width="5.60" height="17.57" fill="#37AD6B"/>
<rect x="950.78" y="2174.51" width="30.00" height="7.00" fill="#37AD6B"/>
<rect x="950.78" y="2192.09" width="30.00" height="7.00" fill="#37AD6B"/>
<polygon points="965.8,2198.8 977.8,2177.8 953.8,2177.8" fill="#37AD6B"/>
<rect x="1055.56" y="2180.74" width="5.60" height="17.52" fill="#37AD6B"/>
<rect x="1043.36" y="2177.24" width="30.00" height="7.00" fill="#37AD6B"/>
<rect x="1043.36" y="2194.76" width="30.00" height="7.00" fill="#37AD6B"/>
<polygon points="1058.4,2201.5 1070.4,2180.5 1046.4,2180.5" fill="#37AD6B"/>
<rect x="1148.14" y="2213.26" width="5.60" height="16.87" fill="#37AD6B"/>
<rect x="1135.94" y="2209.76" width="30.00" height="7.00" fill="#37AD6B"/>
<rect x="1135.94" y="2226.64" width="30.00" height="7.00" fill="#37AD6B"/>
<polygon points="1150.9,2233.7 1162.9,2212.7 1138.9,2212.7" fill="#37AD6B"/>
<rect x="1240.72" y="2262.15" width="5.60" height="15.90" fill="#37AD6B"/>
<rect x="1228.52" y="2258.65" width="30.00" height="7.00" fill="#37AD6B"/>
<rect x="1228.52" y="2274.55" width="30.00" height="7.00" fill="#37AD6B"/>
<polygon points="1243.5,2282.1 1255.5,2261.1 1231.5,2261.1" fill="#37AD6B"/>
<rect x="1333.30" y="2316.38" width="5.60" height="14.83" fill="#37AD6B"/>
<rect x="1321.10" y="2312.88" width="30.00" height="7.00" fill="#37AD6B"/>
<rect x="1321.10" y="2327.72" width="30.00" height="7.00" fill="#37AD6B"/>
<polygon points="1336.1,2335.8 1348.1,2314.8 1324.1,2314.8" fill="#37AD6B"/>
<rect x="1425.88" y="2502.93" width="5.60" height="11.14" fill="#37AD6B"/>
<rect x="1413.68" y="2499.43" width="30.00" height="7.00" fill="#37AD6B"/>
<rect x="1413.68" y="2510.57" width="30.00" height="7.00" fill="#37AD6B"/>
<polygon points="1428.7,2520.5 1440.7,2499.5 1416.7,2499.5" fill="#37AD6B"/>
<rect x="1518.46" y="2568.38" width="5.60" height="9.84" fill="#37AD6B"/>
<rect x="1506.26" y="2564.88" width="30.00" height="7.00" fill="#37AD6B"/>
<rect x="1506.26" y="2574.72" width="30.00" height="7.00" fill="#37AD6B"/>
<polygon points="1521.3,2585.3 1533.3,2564.3 1509.3,2564.3" fill="#37AD6B"/>
<rect x="1611.04" y="2628.58" width="5.60" height="8.65" fill="#37AD6B"/>
<rect x="1598.84" y="2625.08" width="30.00" height="7.00" fill="#37AD6B"/>
<rect x="1598.84" y="2633.72" width="30.00" height="7.00" fill="#37AD6B"/>
<polygon points="1613.8,2644.9 1625.8,2623.9 1601.8,2623.9" fill="#37AD6B"/>
<rect x="1703.62" y="2688.87" width="5.60" height="7.45" fill="#37AD6B"/>
<rect x="1691.42" y="2685.27" width="30.00" height="14.65" fill="#37AD6B"/>
<polygon points="1706.4,2704.6 1718.4,2683.6 1694.4,2683.6" fill="#37AD6B"/>
<rect x="1796.20" y="2754.02" width="5.60" height="6.16" fill="#37AD6B"/>
<rect x="1784.00" y="2750.42" width="30.00" height="13.36" fill="#37AD6B"/>
<polygon points="1799.0,2769.1 1811.0,2748.1 1787.0,2748.1" fill="#37AD6B"/>
<rect x="1888.78" y="2823.71" width="5.60" height="4.78" fill="#37AD6B"/>
<rect x="1876.58" y="2820.11" width="30.00" height="11.98" fill="#37AD6B"/>
<polygon points="1891.6,2838.1 1903.6,2817.1 1879.6,2817.1" fill="#37AD6B"/>
<rect x="1981.36" y="2899.76" width="5.60" height="3.28" fill="#37AD6B"/>
<rect x="1969.16" y="2896.16" width="30.00" height="10.48" fill="#37AD6B"/>
<polygon points="1984.2,2913.4 1996.2,2892.4 1972.2,2892.4" fill="#37AD6B"/>
<rect x="2073.94" y="2973.79" width="5.60" height="1.81" fill="#37AD6B"/>
<rect x="2061.74" y="2970.19" width="30.00" height="9.01" fill="#37AD6B"/>
<polygon points="2076.7,2986.7 2088.7,2965.7 2064.7,2965.7" fill="#37AD6B"/>
<polyline points="502.9,2389.5 595.5,2344.8 688.0,2344.8 780.6,2236.5 873.2,2143.9 965.8,2007.2 1058.4,1882.1 1150.9,1811.9 1243.5,1766.2 1336.1,1747.0 1428.7,1845.1 1521.3,1951.0 1613.8,2087.8 1706.4,2258.8 1799.0,2433.7 1891.6,2600.2 1984.2,2757.8 2076.7,2901.4" fill="none" stroke="#B177DE" stroke-width="1.8" stroke-linejoin="miter" />
<rect x="500.08" y="2382.74" width="5.60" height="13.52" fill="#B177DE"/>
<rect x="487.88" y="2379.24" width="30.00" height="7.00" fill="#B177DE"/>
<rect x="487.88" y="2392.76" width="30.00" height="7.00" fill="#B177DE"/>
<polygon points="502.9,2377.5 514.9,2389.5 502.9,2401.5 490.9,2389.5" fill="#B177DE"/>
<rect x="592.66" y="2337.59" width="5.60" height="14.41" fill="#B177DE"/>
<rect x="580.46" y="2334.09" width="30.00" height="7.00" fill="#B177DE"/>
<rect x="580.46" y="2348.51" width="30.00" height="7.00" fill="#B177DE"/>
<polygon points="595.5,2332.8 607.5,2344.8 595.5,2356.8 583.5,2344.8" fill="#B177DE"/>
<rect x="685.24" y="2337.59" width="5.60" height="14.41" fill="#B177DE"/>
<rect x="673.04" y="2334.09" width="30.00" height="7.00" fill="#B177DE"/>
<rect x="673.04" y="2348.51" width="30.00" height="7.00" fill="#B177DE"/>
<polygon points="688.0,2332.8 700.0,2344.8 688.0,2356.8 676.0,2344.8" fill="#B177DE"/>
<rect x="777.82" y="2228.21" width="5.60" height="16.58" fill="#B177DE"/>
<rect x="765.62" y="2224.71" width="30.00" height="7.00" fill="#B177DE"/>
<rect x="765.62" y="2241.29" width="30.00" height="7.00" fill="#B177DE"/>
<polygon points="780.6,2224.5 792.6,2236.5 780.6,2248.5 768.6,2236.5" fill="#B177DE"/>
<rect x="870.40" y="2134.69" width="5.60" height="18.43" fill="#B177DE"/>
<rect x="858.20" y="2131.19" width="30.00" height="7.00" fill="#B177DE"/>
<rect x="858.20" y="2149.61" width="30.00" height="7.00" fill="#B177DE"/>
<polygon points="873.2,2131.9 885.2,2143.9 873.2,2155.9 861.2,2143.9" fill="#B177DE"/>
<rect x="962.98" y="1996.62" width="5.60" height="21.16" fill="#B177DE"/>
<rect x="950.78" y="1993.12" width="30.00" height="7.00" fill="#B177DE"/>
<rect x="950.78" y="2014.28" width="30.00" height="7.00" fill="#B177DE"/>
<polygon points="965.8,1995.2 977.8,2007.2 965.8,2019.2 953.8,2007.2" fill="#B177DE"/>
<rect x="1055.56" y="1870.27" width="5.60" height="23.66" fill="#B177DE"/>
<rect x="1043.36" y="1866.77" width="30.00" height="7.00" fill="#B177DE"/>
<rect x="1043.36" y="1890.43" width="30.00" height="7.00" fill="#B177DE"/>
<polygon points="1058.4,1870.1 1070.4,1882.1 1058.4,1894.1 1046.4,1882.1" fill="#B177DE"/>
<rect x="1148.14" y="1799.37" width="5.60" height="25.07" fill="#B177DE"/>
<rect x="1135.94" y="1795.87" width="30.00" height="7.00" fill="#B177DE"/>
<rect x="1135.94" y="1820.93" width="30.00" height="7.00" fill="#B177DE"/>
<polygon points="1150.9,1799.9 1162.9,1811.9 1150.9,1823.9 1138.9,1811.9" fill="#B177DE"/>
<rect x="1240.72" y="1753.21" width="5.60" height="25.98" fill="#B177DE"/>
<rect x="1228.52" y="1749.71" width="30.00" height="7.00" fill="#B177DE"/>
<rect x="1228.52" y="1775.69" width="30.00" height="7.00" fill="#B177DE"/>
<polygon points="1243.5,1754.2 1255.5,1766.2 1243.5,1778.2 1231.5,1766.2" fill="#B177DE"/>
<rect x="1333.30" y="1733.82" width="5.60" height="26.37" fill="#B177DE"/>
<rect x="1321.10" y="1730.32" width="30.00" height="7.00" fill="#B177DE"/>
<rect x="1321.10" y="1756.68" width="30.00" height="7.00" fill="#B177DE"/>
<polygon points="1336.1,1735.0 1348.1,1747.0 1336.1,1759.0 1324.1,1747.0" fill="#B177DE"/>
<rect x="1425.88" y="1832.90" width="5.60" height="24.40" fill="#B177DE"/>
<rect x="1413.68" y="1829.40" width="30.00" height="7.00" fill="#B177DE"/>
<rect x="1413.68" y="1853.80" width="30.00" height="7.00" fill="#B177DE"/>
<polygon points="1428.7,1833.1 1440.7,1845.1 1428.7,1857.1 1416.7,1845.1" fill="#B177DE"/>
<rect x="1518.46" y="1939.86" width="5.60" height="22.29" fill="#B177DE"/>
<rect x="1506.26" y="1936.36" width="30.00" height="7.00" fill="#B177DE"/>
<rect x="1506.26" y="1958.64" width="30.00" height="7.00" fill="#B177DE"/>
<polygon points="1521.3,1939.0 1533.3,1951.0 1521.3,1963.0 1509.3,1951.0" fill="#B177DE"/>
<rect x="1611.04" y="2078.02" width="5.60" height="19.55" fill="#B177DE"/>
<rect x="1598.84" y="2074.52" width="30.00" height="7.00" fill="#B177DE"/>
<rect x="1598.84" y="2094.08" width="30.00" height="7.00" fill="#B177DE"/>
<polygon points="1613.8,2075.8 1625.8,2087.8 1613.8,2099.8 1601.8,2087.8" fill="#B177DE"/>
<rect x="1703.62" y="2250.73" width="5.60" height="16.13" fill="#B177DE"/>
<rect x="1691.42" y="2247.23" width="30.00" height="7.00" fill="#B177DE"/>
<rect x="1691.42" y="2263.37" width="30.00" height="7.00" fill="#B177DE"/>
<polygon points="1706.4,2246.8 1718.4,2258.8 1706.4,2270.8 1694.4,2258.8" fill="#B177DE"/>
<rect x="1796.20" y="2427.38" width="5.60" height="12.63" fill="#B177DE"/>
<rect x="1784.00" y="2423.88" width="30.00" height="7.00" fill="#B177DE"/>
<rect x="1784.00" y="2436.52" width="30.00" height="7.00" fill="#B177DE"/>
<polygon points="1799.0,2421.7 1811.0,2433.7 1799.0,2445.7 1787.0,2433.7" fill="#B177DE"/>
<rect x="1888.78" y="2595.55" width="5.60" height="9.30" fill="#B177DE"/>
<rect x="1876.58" y="2592.05" width="30.00" height="7.00" fill="#B177DE"/>
<rect x="1876.58" y="2601.35" width="30.00" height="7.00" fill="#B177DE"/>
<polygon points="1891.6,2588.2 1903.6,2600.2 1891.6,2612.2 1879.6,2600.2" fill="#B177DE"/>
<rect x="1981.36" y="2754.72" width="5.60" height="6.15" fill="#B177DE"/>
<rect x="1969.16" y="2751.12" width="30.00" height="13.35" fill="#B177DE"/>
<polygon points="1984.2,2745.8 1996.2,2757.8 1984.2,2769.8 1972.2,2757.8" fill="#B177DE"/>
<rect x="2073.94" y="2899.76" width="5.60" height="3.28" fill="#B177DE"/>
<rect x="2061.74" y="2896.16" width="30.00" height="10.48" fill="#B177DE"/>
<polygon points="2076.7,2889.4 2088.7,2901.4 2076.7,2913.4 2064.7,2901.4" fill="#B177DE"/>
<polyline points="502.9,3034.7 595.5,3038.6 688.0,3038.6 780.6,3033.7 873.2,3033.7 965.8,3031.3 1058.4,3027.4 1150.9,3026.4 1243.5,3026.4 1336.1,3026.4 1428.7,3020.0 1521.3,3022.5 1613.8,3017.6 1706.4,3018.2 1799.0,3018.2 1891.6,3017.4 1984.2,3021.0 2076.7,3036.5" fill="none" stroke="#CC9900" stroke-width="1.8" stroke-linejoin="miter" />
<rect x="500.08" y="3034.39" width="5.60" height="0.61" fill="#CC9900"/>
<rect x="487.88" y="3030.79" width="30.00" height="7.81" fill="#CC9900"/>
<polygon points="492.4,3034.7 510.8,3024.2 510.8,3045.2" fill="#CC9900"/>
<rect x="592.66" y="3038.33" width="5.60" height="0.53" fill="#CC9900"/>
<rect x="580.46" y="3034.73" width="30.00" height="7.73" fill="#CC9900"/>
<polygon points="585.0,3038.6 603.3,3028.1 603.3,3049.1" fill="#CC9900"/>
<rect x="685.24" y="3038.33" width="5.60" height="0.53" fill="#CC9900"/>
<rect x="673.04" y="3034.73" width="30.00" height="7.73" fill="#CC9900"/>
<polygon points="677.5,3038.6 695.9,3028.1 695.9,3049.1" fill="#CC9900"/>
<rect x="777.82" y="3033.38" width="5.60" height="0.63" fill="#CC9900"/>
<rect x="765.62" y="3029.78" width="30.00" height="7.83" fill="#CC9900"/>
<polygon points="770.1,3033.7 788.5,3023.2 788.5,3044.2" fill="#CC9900"/>
<rect x="870.40" y="3033.38" width="5.60" height="0.63" fill="#CC9900"/>
<rect x="858.20" y="3029.78" width="30.00" height="7.83" fill="#CC9900"/>
<polygon points="862.7,3033.7 881.1,3023.2 881.1,3044.2" fill="#CC9900"/>
<rect x="962.98" y="3030.96" width="5.60" height="0.68" fill="#CC9900"/>
<rect x="950.78" y="3027.36" width="30.00" height="7.88" fill="#CC9900"/>
<polygon points="955.3,3031.3 973.7,3020.8 973.7,3041.8" fill="#CC9900"/>
<rect x="1055.56" y="3027.02" width="5.60" height="0.76" fill="#CC9900"/>
<rect x="1043.36" y="3023.42" width="30.00" height="7.96" fill="#CC9900"/>
<polygon points="1047.9,3027.4 1066.2,3016.9 1066.2,3037.9" fill="#CC9900"/>
<rect x="1148.14" y="3026.01" width="5.60" height="0.78" fill="#CC9900"/>
<rect x="1135.94" y="3022.41" width="30.00" height="7.98" fill="#CC9900"/>
<polygon points="1140.4,3026.4 1158.8,3015.9 1158.8,3036.9" fill="#CC9900"/>
<rect x="1240.72" y="3026.01" width="5.60" height="0.78" fill="#CC9900"/>
<rect x="1228.52" y="3022.41" width="30.00" height="7.98" fill="#CC9900"/>
<polygon points="1233.0,3026.4 1251.4,3015.9 1251.4,3036.9" fill="#CC9900"/>
<rect x="1333.30" y="3026.01" width="5.60" height="0.78" fill="#CC9900"/>
<rect x="1321.10" y="3022.41" width="30.00" height="7.98" fill="#CC9900"/>
<polygon points="1325.6,3026.4 1344.0,3015.9 1344.0,3036.9" fill="#CC9900"/>
<rect x="1425.88" y="3019.55" width="5.60" height="0.91" fill="#CC9900"/>
<rect x="1413.68" y="3015.95" width="30.00" height="8.11" fill="#CC9900"/>
<polygon points="1418.2,3020.0 1436.6,3009.5 1436.6,3030.5" fill="#CC9900"/>
<rect x="1518.46" y="3022.07" width="5.60" height="0.86" fill="#CC9900"/>
<rect x="1506.26" y="3018.47" width="30.00" height="8.06" fill="#CC9900"/>
<polygon points="1510.8,3022.5 1529.1,3012.0 1529.1,3033.0" fill="#CC9900"/>
<rect x="1611.04" y="3017.12" width="5.60" height="0.95" fill="#CC9900"/>
<rect x="1598.84" y="3013.52" width="30.00" height="8.15" fill="#CC9900"/>
<polygon points="1603.3,3017.6 1621.7,3007.1 1621.7,3028.1" fill="#CC9900"/>
<rect x="1703.62" y="3017.73" width="5.60" height="0.94" fill="#CC9900"/>
<rect x="1691.42" y="3014.13" width="30.00" height="8.14" fill="#CC9900"/>
<polygon points="1695.9,3018.2 1714.3,3007.7 1714.3,3028.7" fill="#CC9900"/>
<rect x="1796.20" y="3017.73" width="5.60" height="0.94" fill="#CC9900"/>
<rect x="1784.00" y="3014.13" width="30.00" height="8.14" fill="#CC9900"/>
<polygon points="1788.5,3018.2 1806.9,3007.7 1806.9,3028.7" fill="#CC9900"/>
<rect x="1888.78" y="3016.92" width="5.60" height="0.96" fill="#CC9900"/>
<rect x="1876.58" y="3013.32" width="30.00" height="8.16" fill="#CC9900"/>
<polygon points="1881.1,3017.4 1899.5,3006.9 1899.5,3027.9" fill="#CC9900"/>
<rect x="1981.36" y="3020.56" width="5.60" height="0.89" fill="#CC9900"/>
<rect x="1969.16" y="3016.96" width="30.00" height="8.09" fill="#CC9900"/>
<polygon points="1973.7,3021.0 1992.0,3010.5 1992.0,3031.5" fill="#CC9900"/>
<rect x="2073.94" y="3036.21" width="5.60" height="0.58" fill="#CC9900"/>
<rect x="2061.74" y="3032.61" width="30.00" height="7.78" fill="#CC9900"/>
<polygon points="2066.2,3036.5 2084.6,3026.0 2084.6,3047.0" fill="#CC9900"/>
<rect x="1810.5" y="1727.6" width="240" height="465.4" fill="none" stroke="#000" stroke-width="2.5"/>
<line x1="1818.3" y1="1769.1" x2="1957" y2="1769.1" stroke="#515151" stroke-width="2.1"/>
<rect x="1881.8" y="1762.3" width="13.6" height="13.6" fill="#515151"/>
<line x1="1818.3" y1="1845.0" x2="1957" y2="1845.0" stroke="#F14040" stroke-width="2.1"/>
<circle cx="1888.6" cy="1845.0" r="7.8" fill="#F14040"/>
<line x1="1818.3" y1="1920.9" x2="1957" y2="1920.9" stroke="#1A6FDF" stroke-width="2.1"/>
<polygon points="1888.6,1910.7 1898.8,1928.6 1878.4,1928.6" fill="#1A6FDF"/>
<line x1="1818.3" y1="1997.0" x2="1957" y2="1997.0" stroke="#37AD6B" stroke-width="2.1"/>
<polygon points="1888.6,2007.2 1898.8,1989.3 1878.4,1989.3" fill="#37AD6B"/>
<line x1="1818.3" y1="2072.7" x2="1957" y2="2072.7" stroke="#B177DE" stroke-width="2.1"/>
<polygon points="1888.6,2062.5 1898.8,2072.7 1888.6,2082.9 1878.4,2072.7" fill="#B177DE"/>
<line x1="1818.3" y1="2148.6" x2="1957" y2="2148.6" stroke="#CC9900" stroke-width="2.1"/>
<polygon points="1879.7,2148.6 1895.3,2139.7 1895.3,2157.5" fill="#CC9900"/>
<text transform="translate(81.94,1765.72) scale(1.22603,1.17865)" font-family='Carlito, Calibri, "Liberation Sans", sans-serif' font-weight="bold" font-size="100" text-anchor="start" textLength="84.83" lengthAdjust="spacingAndGlyphs" fill="#000">b)</text>
<text transform="translate(176.71,2843.49) scale(0.78511,0.92242) rotate(-90)" font-family='"Liberation Sans", Arial, Helvetica, sans-serif' font-weight="bold" font-size="100" text-anchor="start" textLength="870.38" lengthAdjust="spacingAndGlyphs" fill="#000">CL intensity (RLU)</text>
<text transform="translate(1094.02,3269.52) scale(0.77751,0.75638)" font-family='"Liberation Sans", Arial, Helvetica, sans-serif' font-weight="bold" font-size="100" text-anchor="start" textLength="503.77" lengthAdjust="spacingAndGlyphs" fill="#000">Time (min)</text>
<text transform="translate(345.21,1726.05) scale(0.62692,0.64648)" font-family='"Liberation Sans", Arial, Helvetica, sans-serif' font-weight="normal" font-size="100" text-anchor="end" textLength="216.86" lengthAdjust="spacingAndGlyphs" fill="#000">6x10</text>
<text transform="translate(344.76,1700.87) scale(0.44783,0.42535)" font-family='"Liberation Sans", Arial, Helvetica, sans-serif' font-weight="normal" font-size="100" text-anchor="start" textLength="55.62" lengthAdjust="spacingAndGlyphs" fill="#000">6</text>
<text transform="translate(345.21,1952.83) scale(0.62692,0.64648)" font-family='"Liberation Sans", Arial, Helvetica, sans-serif' font-weight="normal" font-size="100" text-anchor="end" textLength="216.86" lengthAdjust="spacingAndGlyphs" fill="#000">5x10</text>
<text transform="translate(344.76,1927.65) scale(0.44783,0.42535)" font-family='"Liberation Sans", Arial, Helvetica, sans-serif' font-weight="normal" font-size="100" text-anchor="start" textLength="55.62" lengthAdjust="spacingAndGlyphs" fill="#000">6</text>
<text transform="translate(345.21,2179.61) scale(0.62692,0.64648)" font-family='"Liberation Sans", Arial, Helvetica, sans-serif' font-weight="normal" font-size="100" text-anchor="end" textLength="216.86" lengthAdjust="spacingAndGlyphs" fill="#000">4x10</text>
<text transform="translate(344.76,2154.43) scale(0.44783,0.42535)" font-family='"Liberation Sans", Arial, Helvetica, sans-serif' font-weight="normal" font-size="100" text-anchor="start" textLength="55.62" lengthAdjust="spacingAndGlyphs" fill="#000">6</text>
<text transform="translate(345.21,2406.39) scale(0.62692,0.64648)" font-family='"Liberation Sans", Arial, Helvetica, sans-serif' font-weight="normal" font-size="100" text-anchor="end" textLength="216.86" lengthAdjust="spacingAndGlyphs" fill="#000">3x10</text>
<text transform="translate(344.76,2381.21) scale(0.44783,0.42535)" font-family='"Liberation Sans", Arial, Helvetica, sans-serif' font-weight="normal" font-size="100" text-anchor="start" textLength="55.62" lengthAdjust="spacingAndGlyphs" fill="#000">6</text>
<text transform="translate(345.21,2633.17) scale(0.62692,0.64648)" font-family='"Liberation Sans", Arial, Helvetica, sans-serif' font-weight="normal" font-size="100" text-anchor="end" textLength="216.86" lengthAdjust="spacingAndGlyphs" fill="#000">2x10</text>
<text transform="translate(344.76,2607.99) scale(0.44783,0.42535)" font-family='"Liberation Sans", Arial, Helvetica, sans-serif' font-weight="normal" font-size="100" text-anchor="start" textLength="55.62" lengthAdjust="spacingAndGlyphs" fill="#000">6</text>
<text transform="translate(345.21,2859.95) scale(0.62692,0.64648)" font-family='"Liberation Sans", Arial, Helvetica, sans-serif' font-weight="normal" font-size="100" text-anchor="end" textLength="216.86" lengthAdjust="spacingAndGlyphs" fill="#000">1x10</text>
<text transform="translate(344.76,2834.77) scale(0.44783,0.42535)" font-family='"Liberation Sans", Arial, Helvetica, sans-serif' font-weight="normal" font-size="100" text-anchor="start" textLength="55.62" lengthAdjust="spacingAndGlyphs" fill="#000">6</text>
<text transform="translate(369.04,3079.87) scale(0.61042,0.62535)" font-family='"Liberation Sans", Arial, Helvetica, sans-serif' font-weight="normal" font-size="100" text-anchor="end" textLength="55.62" lengthAdjust="spacingAndGlyphs" fill="#000">0</text>
<text transform="translate(409.00,3151.86) scale(0.62500,0.63521)" font-family='"Liberation Sans", Arial, Helvetica, sans-serif' font-weight="normal" font-size="100" text-anchor="middle" textLength="55.62" lengthAdjust="spacingAndGlyphs" fill="#000">0</text>
<text transform="translate(594.16,3151.86) scale(0.62500,0.63521)" font-family='"Liberation Sans", Arial, Helvetica, sans-serif' font-weight="normal" font-size="100" text-anchor="middle" textLength="55.62" lengthAdjust="spacingAndGlyphs" fill="#000">1</text>
<text transform="translate(779.32,3151.86) scale(0.62500,0.63521)" font-family='"Liberation Sans", Arial, Helvetica, sans-serif' font-weight="normal" font-size="100" text-anchor="middle" textLength="55.62" lengthAdjust="spacingAndGlyphs" fill="#000">2</text>
<text transform="translate(964.48,3151.86) scale(0.62500,0.63521)" font-family='"Liberation Sans", Arial, Helvetica, sans-serif' font-weight="normal" font-size="100" text-anchor="middle" textLength="55.62" lengthAdjust="spacingAndGlyphs" fill="#000">3</text>
<text transform="translate(1149.64,3151.86) scale(0.62500,0.63521)" font-family='"Liberation Sans", Arial, Helvetica, sans-serif' font-weight="normal" font-size="100" text-anchor="middle" textLength="55.62" lengthAdjust="spacingAndGlyphs" fill="#000">4</text>
<text transform="translate(1334.80,3151.86) scale(0.62500,0.63521)" font-family='"Liberation Sans", Arial, Helvetica, sans-serif' font-weight="normal" font-size="100" text-anchor="middle" textLength="55.62" lengthAdjust="spacingAndGlyphs" fill="#000">5</text>
<text transform="translate(1519.96,3151.86) scale(0.62500,0.63521)" font-family='"Liberation Sans", Arial, Helvetica, sans-serif' font-weight="normal" font-size="100" text-anchor="middle" textLength="55.62" lengthAdjust="spacingAndGlyphs" fill="#000">6</text>
<text transform="translate(1705.12,3151.86) scale(0.62500,0.63521)" font-family='"Liberation Sans", Arial, Helvetica, sans-serif' font-weight="normal" font-size="100" text-anchor="middle" textLength="55.62" lengthAdjust="spacingAndGlyphs" fill="#000">7</text>
<text transform="translate(1890.28,3151.86) scale(0.62500,0.63521)" font-family='"Liberation Sans", Arial, Helvetica, sans-serif' font-weight="normal" font-size="100" text-anchor="middle" textLength="55.62" lengthAdjust="spacingAndGlyphs" fill="#000">8</text>
<text transform="translate(2075.44,3151.86) scale(0.62500,0.63521)" font-family='"Liberation Sans", Arial, Helvetica, sans-serif' font-weight="normal" font-size="100" text-anchor="middle" textLength="55.62" lengthAdjust="spacingAndGlyphs" fill="#000">9</text>
<text transform="translate(1972.35,1791.25) scale(0.62476,0.65143)" font-family='"Liberation Sans", Arial, Helvetica, sans-serif' font-weight="normal" font-size="100" text-anchor="start" textLength="55.62" lengthAdjust="spacingAndGlyphs" fill="#000">0</text>
<text transform="translate(1972.35,1867.15) scale(0.62476,0.65143)" font-family='"Liberation Sans", Arial, Helvetica, sans-serif' font-weight="normal" font-size="100" text-anchor="start" textLength="111.23" lengthAdjust="spacingAndGlyphs" fill="#000">15</text>
<text transform="translate(1972.35,1943.05) scale(0.62476,0.65143)" font-family='"Liberation Sans", Arial, Helvetica, sans-serif' font-weight="normal" font-size="100" text-anchor="start" textLength="111.23" lengthAdjust="spacingAndGlyphs" fill="#000">30</text>
<text transform="translate(1972.35,2019.15) scale(0.62476,0.65143)" font-family='"Liberation Sans", Arial, Helvetica, sans-serif' font-weight="normal" font-size="100" text-anchor="start" textLength="111.23" lengthAdjust="spacingAndGlyphs" fill="#000">45</text>
<text transform="translate(1972.35,2094.85) scale(0.62476,0.65143)" font-family='"Liberation Sans", Arial, Helvetica, sans-serif' font-weight="normal" font-size="100" text-anchor="start" textLength="111.23" lengthAdjust="spacingAndGlyphs" fill="#000">60</text>
<text transform="translate(1972.35,2170.75) scale(0.62476,0.65143)" font-family='"Liberation Sans", Arial, Helvetica, sans-serif' font-weight="normal" font-size="100" text-anchor="start" textLength="111.23" lengthAdjust="spacingAndGlyphs" fill="#000">75</text>
<path d="M1077.9,4353.0 A67.1,67.1 0 0 1 1212.1,4353.0" stroke="#dadada" stroke-width="1.7" fill="none" stroke-dasharray="4 6"/>
<path d="M1010.8,4353.0 A134.2,134.2 0 0 1 1279.2,4353.0" stroke="#c4c4c4" stroke-width="1.8" fill="none" stroke-dasharray="7 8"/>
<path d="M943.8,4353.0 A201.2,201.2 0 0 1 1346.2,4353.0" stroke="#dadada" stroke-width="1.7" fill="none" stroke-dasharray="4 6"/>
<path d="M876.7,4353.0 A268.3,268.3 0 0 1 1413.3,4353.0" stroke="#c4c4c4" stroke-width="1.8" fill="none" stroke-dasharray="7 8"/>
<path d="M809.6,4353.0 A335.4,335.4 0 0 1 1480.4,4353.0" stroke="#dadada" stroke-width="1.7" fill="none" stroke-dasharray="4 6"/>
<path d="M742.5,4353.0 A402.5,402.5 0 0 1 1547.5,4353.0" stroke="#c4c4c4" stroke-width="1.8" fill="none" stroke-dasharray="7 8"/>
<path d="M675.4,4353.0 A469.6,469.6 0 0 1 1614.6,4353.0" stroke="#dadada" stroke-width="1.7" fill="none" stroke-dasharray="4 6"/>
<path d="M608.3,4353.0 A536.7,536.7 0 0 1 1681.7,4353.0" stroke="#c4c4c4" stroke-width="1.8" fill="none" stroke-dasharray="7 8"/>
<path d="M541.2,4353.0 A603.8,603.8 0 0 1 1748.8,4353.0" stroke="#dadada" stroke-width="1.7" fill="none" stroke-dasharray="4 6"/>
<path d="M474.2,4353.0 A670.8,670.8 0 0 1 1815.8,4353.0" stroke="#c4c4c4" stroke-width="1.8" fill="none" stroke-dasharray="7 8"/>
<path d="M407.1,4353.0 A737.9,737.9 0 0 1 1882.9,4353.0" stroke="#dadada" stroke-width="1.7" fill="none" stroke-dasharray="4 6"/>
<line x1="1145.0" y1="4353.0" x2="1950.0" y2="4353.0" stroke="#c4c4c4" stroke-width="1.8" fill="none" stroke-dasharray="7 8"/>
<line x1="1936.0" y1="4353.0" x2="1950.0" y2="4353.0" stroke="#808080" stroke-width="2"/>
<line x1="1145.0" y1="4353.0" x2="1943.1" y2="4247.9" stroke="#dadada" stroke-width="1.7" fill="none" stroke-dasharray="4 6"/>
<line x1="1929.2" y1="4249.8" x2="1943.1" y2="4247.9" stroke="#808080" stroke-width="2"/>
<line x1="1145.0" y1="4353.0" x2="1922.6" y2="4144.7" stroke="#c4c4c4" stroke-width="1.8" fill="none" stroke-dasharray="7 8"/>
<line x1="1909.0" y1="4148.3" x2="1922.6" y2="4144.7" stroke="#808080" stroke-width="2"/>
<line x1="1145.0" y1="4353.0" x2="1888.7" y2="4044.9" stroke="#dadada" stroke-width="1.7" fill="none" stroke-dasharray="4 6"/>
<line x1="1875.8" y1="4050.3" x2="1888.7" y2="4044.9" stroke="#808080" stroke-width="2"/>
<line x1="1145.0" y1="4353.0" x2="1842.2" y2="3950.5" stroke="#c4c4c4" stroke-width="1.8" fill="none" stroke-dasharray="7 8"/>
<line x1="1830.0" y1="3957.5" x2="1842.2" y2="3950.5" stroke="#808080" stroke-width="2"/>
<line x1="1145.0" y1="4353.0" x2="1783.6" y2="3862.9" stroke="#dadada" stroke-width="1.7" fill="none" stroke-dasharray="4 6"/>
<line x1="1772.5" y1="3871.5" x2="1783.6" y2="3862.9" stroke="#808080" stroke-width="2"/>
<line x1="1145.0" y1="4353.0" x2="1714.2" y2="3783.8" stroke="#c4c4c4" stroke-width="1.8" fill="none" stroke-dasharray="7 8"/>
<line x1="1704.3" y1="3793.7" x2="1714.2" y2="3783.8" stroke="#808080" stroke-width="2"/>
<line x1="1145.0" y1="4353.0" x2="1635.1" y2="3714.4" stroke="#dadada" stroke-width="1.7" fill="none" stroke-dasharray="4 6"/>
<line x1="1626.5" y1="3725.5" x2="1635.1" y2="3714.4" stroke="#808080" stroke-width="2"/>
<line x1="1145.0" y1="4353.0" x2="1547.5" y2="3655.8" stroke="#c4c4c4" stroke-width="1.8" fill="none" stroke-dasharray="7 8"/>
<line x1="1540.5" y1="3668.0" x2="1547.5" y2="3655.8" stroke="#808080" stroke-width="2"/>
<line x1="1145.0" y1="4353.0" x2="1453.1" y2="3609.3" stroke="#dadada" stroke-width="1.7" fill="none" stroke-dasharray="4 6"/>
<line x1="1447.7" y1="3622.2" x2="1453.1" y2="3609.3" stroke="#808080" stroke-width="2"/>
<line x1="1145.0" y1="4353.0" x2="1353.3" y2="3575.4" stroke="#c4c4c4" stroke-width="1.8" fill="none" stroke-dasharray="7 8"/>
<line x1="1349.7" y1="3589.0" x2="1353.3" y2="3575.4" stroke="#808080" stroke-width="2"/>
<line x1="1145.0" y1="4353.0" x2="1250.1" y2="3554.9" stroke="#dadada" stroke-width="1.7" fill="none" stroke-dasharray="4 6"/>
<line x1="1248.2" y1="3568.8" x2="1250.1" y2="3554.9" stroke="#808080" stroke-width="2"/>
<line x1="1145.0" y1="4353.0" x2="1145.0" y2="3548.0" stroke="#c4c4c4" stroke-width="1.8" fill="none" stroke-dasharray="7 8"/>
<line x1="1145.0" y1="3562.0" x2="1145.0" y2="3548.0" stroke="#808080" stroke-width="2"/>
<line x1="1145.0" y1="4353.0" x2="1039.9" y2="3554.9" stroke="#dadada" stroke-width="1.7" fill="none" stroke-dasharray="4 6"/>
<line x1="1041.8" y1="3568.8" x2="1039.9" y2="3554.9" stroke="#808080" stroke-width="2"/>
<line x1="1145.0" y1="4353.0" x2="936.7" y2="3575.4" stroke="#c4c4c4" stroke-width="1.8" fill="none" stroke-dasharray="7 8"/>
<line x1="940.3" y1="3589.0" x2="936.7" y2="3575.4" stroke="#808080" stroke-width="2"/>
<line x1="1145.0" y1="4353.0" x2="836.9" y2="3609.3" stroke="#dadada" stroke-width="1.7" fill="none" stroke-dasharray="4 6"/>
<line x1="842.3" y1="3622.2" x2="836.9" y2="3609.3" stroke="#808080" stroke-width="2"/>
<line x1="1145.0" y1="4353.0" x2="742.5" y2="3655.8" stroke="#c4c4c4" stroke-width="1.8" fill="none" stroke-dasharray="7 8"/>
<line x1="749.5" y1="3668.0" x2="742.5" y2="3655.8" stroke="#808080" stroke-width="2"/>
<line x1="1145.0" y1="4353.0" x2="654.9" y2="3714.4" stroke="#dadada" stroke-width="1.7" fill="none" stroke-dasharray="4 6"/>
<line x1="663.5" y1="3725.5" x2="654.9" y2="3714.4" stroke="#808080" stroke-width="2"/>
<line x1="1145.0" y1="4353.0" x2="575.8" y2="3783.8" stroke="#c4c4c4" stroke-width="1.8" fill="none" stroke-dasharray="7 8"/>
<line x1="585.7" y1="3793.7" x2="575.8" y2="3783.8" stroke="#808080" stroke-width="2"/>
<line x1="1145.0" y1="4353.0" x2="506.4" y2="3862.9" stroke="#dadada" stroke-width="1.7" fill="none" stroke-dasharray="4 6"/>
<line x1="517.5" y1="3871.5" x2="506.4" y2="3862.9" stroke="#808080" stroke-width="2"/>
<line x1="1145.0" y1="4353.0" x2="447.8" y2="3950.5" stroke="#c4c4c4" stroke-width="1.8" fill="none" stroke-dasharray="7 8"/>
<line x1="460.0" y1="3957.5" x2="447.8" y2="3950.5" stroke="#808080" stroke-width="2"/>
<line x1="1145.0" y1="4353.0" x2="401.3" y2="4044.9" stroke="#dadada" stroke-width="1.7" fill="none" stroke-dasharray="4 6"/>
<line x1="414.2" y1="4050.3" x2="401.3" y2="4044.9" stroke="#808080" stroke-width="2"/>
<line x1="1145.0" y1="4353.0" x2="367.4" y2="4144.7" stroke="#c4c4c4" stroke-width="1.8" fill="none" stroke-dasharray="7 8"/>
<line x1="381.0" y1="4148.3" x2="367.4" y2="4144.7" stroke="#808080" stroke-width="2"/>
<line x1="1145.0" y1="4353.0" x2="346.9" y2="4247.9" stroke="#dadada" stroke-width="1.7" fill="none" stroke-dasharray="4 6"/>
<line x1="360.8" y1="4249.8" x2="346.9" y2="4247.9" stroke="#808080" stroke-width="2"/>
<line x1="1145.0" y1="4353.0" x2="340.0" y2="4353.0" stroke="#c4c4c4" stroke-width="1.8" fill="none" stroke-dasharray="7 8"/>
<line x1="354.0" y1="4353.0" x2="340.0" y2="4353.0" stroke="#808080" stroke-width="2"/>
<path d="M340.0,4353.0 A805.0,805.0 0 0 1 1950.0,4353.0" stroke="#858585" stroke-width="2.3" fill="none"/>
<polyline points="1133.0,4350.0 825.6,4162.4 812.7,4020.7 832.2,3813.6 1026.0,3916.3 1142.2,3818.4 1258.2,3909.5 1450.4,3810.9 1520.4,3955.8 1566.0,4110.3 1168.5,4346.0" fill="none" stroke="#000" stroke-width="5.6" stroke-linejoin="miter" stroke-dasharray="35.5 14.3 10 14.4"/>
<polyline points="1133.0,4350.0 679.7,4084.9 880.2,3895.8 1069.3,4073.5 1144.5,3973.3 1213.0,4091.5 1402.3,3909.5 1523.7,3967.1 1762.0,3994.0 1168.5,4346.0" fill="none" stroke="#0000ff" stroke-width="5.6" stroke-linejoin="miter" stroke-dasharray="15 11.9"/>
<polyline points="1133.0,4350.0 650.1,4062.1 1101.2,4194.3 1142.7,4082.8 1190.0,4180.0 1244.0,4181.5 1779.3,3986.4 1168.5,4346.0" fill="none" stroke="#008000" stroke-width="5.6" stroke-linejoin="miter" stroke-dasharray="31 28.7"/>
<polyline points="1133.0,4350.0 934.9,4230.7 1124.2,4280.7 1144.1,4226.6 1165.5,4270.7 1191.1,4272.2 1414.7,4196.7 1168.5,4346.0" fill="none" stroke="#ff0000" stroke-width="5.6" stroke-linejoin="miter" />
<line x1="1687.5" y1="3386.8" x2="1834" y2="3386.8" stroke="#000" stroke-width="5.8" stroke-dasharray="35.5 14.3 10 14.4"/>
<line x1="1686.8" y1="3465.4" x2="1836.5" y2="3465.4" stroke="#0000ff" stroke-width="5.8" stroke-dasharray="15 11.9"/>
<line x1="1686.8" y1="3545.6" x2="1836.5" y2="3545.6" stroke="#008000" stroke-width="5.8" stroke-dasharray="31 28.7"/>
<line x1="1686.8" y1="3626.0" x2="1836.5" y2="3626.0" stroke="#ff0000" stroke-width="5.8"/>
<text transform="translate(1851.58,3408.49) scale(0.65427,0.61216)" font-family='"Liberation Sans", Arial, Helvetica, sans-serif' font-weight="normal" font-size="100" text-anchor="start" textLength="244.53" lengthAdjust="spacingAndGlyphs" fill="#000">1 min</text>
<text transform="translate(1851.58,3486.99) scale(0.65427,0.61216)" font-family='"Liberation Sans", Arial, Helvetica, sans-serif' font-weight="normal" font-size="100" text-anchor="start" textLength="244.53" lengthAdjust="spacingAndGlyphs" fill="#000">3 min</text>
<text transform="translate(1851.58,3568.09) scale(0.65427,0.61216)" font-family='"Liberation Sans", Arial, Helvetica, sans-serif' font-weight="normal" font-size="100" text-anchor="start" textLength="244.53" lengthAdjust="spacingAndGlyphs" fill="#000">6 min</text>
<text transform="translate(1851.58,3645.69) scale(0.65427,0.61216)" font-family='"Liberation Sans", Arial, Helvetica, sans-serif' font-weight="normal" font-size="100" text-anchor="start" textLength="244.53" lengthAdjust="spacingAndGlyphs" fill="#000">8 min</text>
<text transform="translate(251.73,3461.68) scale(1.25781,1.23483)" font-family='Carlito, Calibri, "Liberation Sans", sans-serif' font-weight="bold" font-size="100" text-anchor="start" textLength="73.00" lengthAdjust="spacingAndGlyphs" fill="#000">c)</text>
<text transform="translate(463.43,4463.21) scale(0.88410,0.84944)" font-family='Carlito, Calibri, "Liberation Sans", sans-serif' font-weight="bold" font-size="100" text-anchor="start" textLength="725.39" lengthAdjust="spacingAndGlyphs" fill="#000">CL intensity (RLU)</text>
<text transform="translate(1310.52,3534.33) scale(0.66985,0.67143)" font-family='"Liberation Sans", Arial, Helvetica, sans-serif' font-weight="normal" font-size="100" text-anchor="start" textLength="144.53" lengthAdjust="spacingAndGlyphs" fill="#000">-15</text>
<text transform="translate(1125.19,3507.46) scale(0.66985,0.67143)" font-family='"Liberation Sans", Arial, Helvetica, sans-serif' font-weight="normal" font-size="100" text-anchor="start" textLength="55.62" lengthAdjust="spacingAndGlyphs" fill="#000">0</text>
<text transform="translate(892.53,3534.93) scale(0.66985,0.67143)" font-family='"Liberation Sans", Arial, Helvetica, sans-serif' font-weight="normal" font-size="100" text-anchor="start" textLength="111.23" lengthAdjust="spacingAndGlyphs" fill="#000">15</text>
<text transform="translate(654.67,3618.31) scale(0.66985,0.67143)" font-family='"Liberation Sans", Arial, Helvetica, sans-serif' font-weight="normal" font-size="100" text-anchor="start" textLength="111.23" lengthAdjust="spacingAndGlyphs" fill="#000">30</text>
<text transform="translate(1556.64,3618.56) scale(0.66985,0.67143)" font-family='"Liberation Sans", Arial, Helvetica, sans-serif' font-weight="normal" font-size="100" text-anchor="start" textLength="144.53" lengthAdjust="spacingAndGlyphs" fill="#000">-30</text>
<text transform="translate(482.69,3749.78) scale(0.66985,0.67143)" font-family='"Liberation Sans", Arial, Helvetica, sans-serif' font-weight="normal" font-size="100" text-anchor="start" textLength="111.23" lengthAdjust="spacingAndGlyphs" fill="#000">45</text>
<text transform="translate(1728.87,3749.93) scale(0.66985,0.67143)" font-family='"Liberation Sans", Arial, Helvetica, sans-serif' font-weight="normal" font-size="100" text-anchor="start" textLength="144.53" lengthAdjust="spacingAndGlyphs" fill="#000">-45</text>
<text transform="translate(349.04,3923.66) scale(0.66985,0.67143)" font-family='"Liberation Sans", Arial, Helvetica, sans-serif' font-weight="normal" font-size="100" text-anchor="start" textLength="111.23" lengthAdjust="spacingAndGlyphs" fill="#000">60</text>
<text transform="translate(1860.69,3923.31) scale(0.66985,0.67143)" font-family='"Liberation Sans", Arial, Helvetica, sans-serif' font-weight="normal" font-size="100" text-anchor="start" textLength="144.53" lengthAdjust="spacingAndGlyphs" fill="#000">-60</text>
<text transform="translate(266.79,4160.73) scale(0.66985,0.67143)" font-family='"Liberation Sans", Arial, Helvetica, sans-serif' font-weight="normal" font-size="100" text-anchor="start" textLength="111.23" lengthAdjust="spacingAndGlyphs" fill="#000">75</text>
<text transform="translate(1944.92,4160.58) scale(0.66985,0.67143)" font-family='"Liberation Sans", Arial, Helvetica, sans-serif' font-weight="normal" font-size="100" text-anchor="start" textLength="144.53" lengthAdjust="spacingAndGlyphs" fill="#000">-75</text>
<text transform="translate(237.64,4374.36) scale(0.66985,0.67143)" font-family='"Liberation Sans", Arial, Helvetica, sans-serif' font-weight="normal" font-size="100" text-anchor="start" textLength="111.23" lengthAdjust="spacingAndGlyphs" fill="#000">90</text>
<text transform="translate(1972.39,4373.91) scale(0.66985,0.67143)" font-family='"Liberation Sans", Arial, Helvetica, sans-serif' font-weight="normal" font-size="100" text-anchor="start" textLength="144.53" lengthAdjust="spacingAndGlyphs" fill="#000">-90</text>
<text transform="translate(1256.10,4387.17) scale(0.69718,0.66683) rotate(90)" font-family='"Liberation Sans", Arial, Helvetica, sans-serif' font-weight="normal" font-size="100" text-anchor="start" textLength="216.86" lengthAdjust="spacingAndGlyphs" fill="#000">1x10</text>
<text transform="translate(1276.08,4530.55) scale(0.48028,0.48875) rotate(90)" font-family='"Liberation Sans", Arial, Helvetica, sans-serif' font-weight="normal" font-size="100" text-anchor="start" textLength="88.92" lengthAdjust="spacingAndGlyphs" fill="#000">-6</text>
<text transform="translate(1389.50,4387.17) scale(0.69718,0.66683) rotate(90)" font-family='"Liberation Sans", Arial, Helvetica, sans-serif' font-weight="normal" font-size="100" text-anchor="start" textLength="216.86" lengthAdjust="spacingAndGlyphs" fill="#000">2x10</text>
<text transform="translate(1409.48,4530.55) scale(0.48028,0.48875) rotate(90)" font-family='"Liberation Sans", Arial, Helvetica, sans-serif' font-weight="normal" font-size="100" text-anchor="start" textLength="88.92" lengthAdjust="spacingAndGlyphs" fill="#000">-6</text>
<text transform="translate(1521.30,4387.17) scale(0.69718,0.66683) rotate(90)" font-family='"Liberation Sans", Arial, Helvetica, sans-serif' font-weight="normal" font-size="100" text-anchor="start" textLength="216.86" lengthAdjust="spacingAndGlyphs" fill="#000">3x10</text>
<text transform="translate(1541.28,4530.55) scale(0.48028,0.48875) rotate(90)" font-family='"Liberation Sans", Arial, Helvetica, sans-serif' font-weight="normal" font-size="100" text-anchor="start" textLength="88.92" lengthAdjust="spacingAndGlyphs" fill="#000">-6</text>
<text transform="translate(1655.10,4387.17) scale(0.69718,0.66683) rotate(90)" font-family='"Liberation Sans", Arial, Helvetica, sans-serif' font-weight="normal" font-size="100" text-anchor="start" textLength="216.86" lengthAdjust="spacingAndGlyphs" fill="#000">4x10</text>
<text transform="translate(1675.08,4530.55) scale(0.48028,0.48875) rotate(90)" font-family='"Liberation Sans", Arial, Helvetica, sans-serif' font-weight="normal" font-size="100" text-anchor="start" textLength="88.92" lengthAdjust="spacingAndGlyphs" fill="#000">-6</text>
<text transform="translate(1788.60,4387.17) scale(0.69718,0.66683) rotate(90)" font-family='"Liberation Sans", Arial, Helvetica, sans-serif' font-weight="normal" font-size="100" text-anchor="start" textLength="216.86" lengthAdjust="spacingAndGlyphs" fill="#000">5x10</text>
<text transform="translate(1808.58,4530.55) scale(0.48028,0.48875) rotate(90)" font-family='"Liberation Sans", Arial, Helvetica, sans-serif' font-weight="normal" font-size="100" text-anchor="start" textLength="88.92" lengthAdjust="spacingAndGlyphs" fill="#000">-6</text>
<text transform="translate(1921.30,4387.17) scale(0.69718,0.66683) rotate(90)" font-family='"Liberation Sans", Arial, Helvetica, sans-serif' font-weight="normal" font-size="100" text-anchor="start" textLength="216.86" lengthAdjust="spacingAndGlyphs" fill="#000">6x10</text>
<text transform="translate(1941.28,4530.55) scale(0.48028,0.48875) rotate(90)" font-family='"Liberation Sans", Arial, Helvetica, sans-serif' font-weight="normal" font-size="100" text-anchor="start" textLength="88.92" lengthAdjust="spacingAndGlyphs" fill="#000">-6</text>
</svg></body></html>
